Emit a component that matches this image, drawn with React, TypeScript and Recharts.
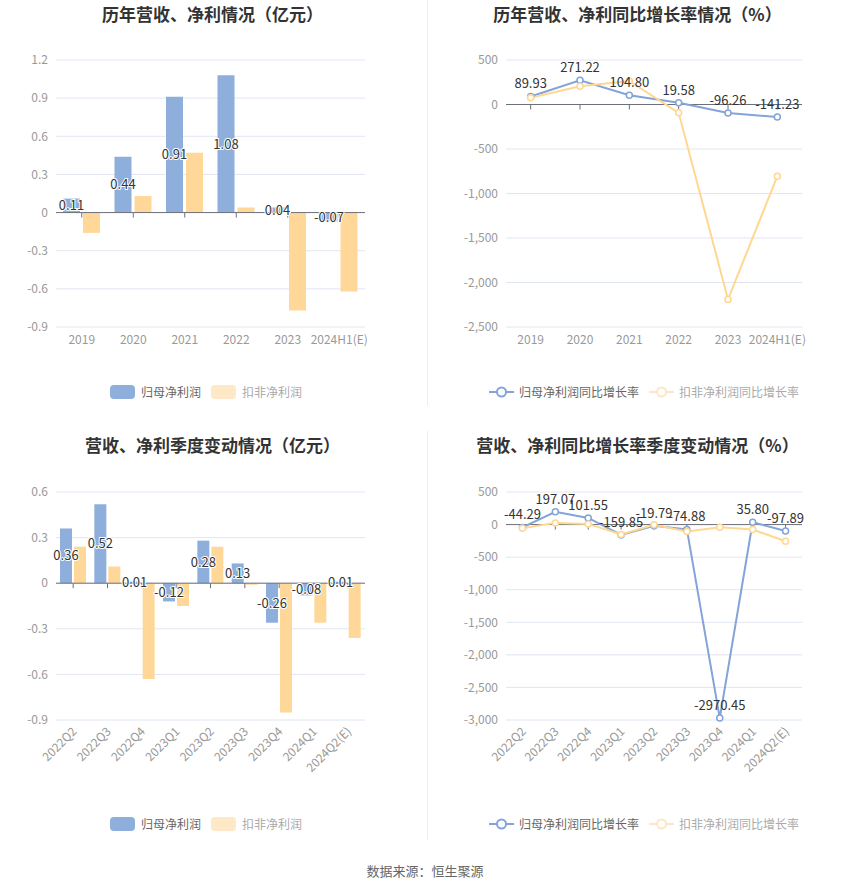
import {
  BarChart,
  Bar,
  LineChart,
  Line,
  XAxis,
  YAxis,
  CartesianGrid,
  ReferenceLine,
  LabelList,
} from "recharts";

// 年度数据
const yearCats = ["2019", "2020", "2021", "2022", "2023", "2024H1(E)"];
const yearNetProfit = [0.11, 0.44, 0.91, 1.08, 0.04, -0.07];
const yearDeductedProfit = [-0.16, 0.13, 0.47, 0.04, -0.77, -0.62];
const yearNetGrowth = [89.93, 271.22, 104.8, 19.58, -96.26, -141.23];
const yearDeductedGrowth = [75, 206, 265, -94, -2190, -805];

// 季度数据
const quarterCats = [
  "2022Q2",
  "2022Q3",
  "2022Q4",
  "2023Q1",
  "2023Q2",
  "2023Q3",
  "2023Q4",
  "2024Q1",
  "2024Q2(E)",
];
const quarterNetProfit = [0.36, 0.52, 0.01, -0.12, 0.28, 0.13, -0.26, -0.08, 0.01];
const quarterDeductedProfit = [0.24, 0.11, -0.63, -0.15, 0.24, -0.01, -0.85, -0.26, -0.36];
const quarterNetGrowth = [-44.29, 197.07, 101.55, -159.85, -19.79, -74.88, -2970.45, 35.8, -97.89];
const quarterDeductedGrowth = [-56, 26, 10, -153, -2, -107, -41, -77, -256];

// 刻度
const yearProfitTicks = [-0.9, -0.6, -0.3, 0, 0.3, 0.6, 0.9, 1.2];
const yearGrowthTicks = [-2500, -2000, -1500, -1000, -500, 0, 500];
const quarterProfitTicks = [-0.9, -0.6, -0.3, 0, 0.3, 0.6];
const quarterGrowthTicks = [-3000, -2500, -2000, -1500, -1000, -500, 0, 500];

const BLUE = "#8eaedc";
const YELLOW = "#ffd899";
const LINE_BLUE = "#82a4d9";
const LINE_YELLOW = "#ffd790";
const GRID = "#e0e6f1";
const AXIS = "#6e7079";
const FONT = '"Noto Sans CJK SC", "Noto Sans", sans-serif';

const yearProfitData = yearCats.map((name, i) => ({
  name,
  net: yearNetProfit[i],
  deducted: yearDeductedProfit[i],
}));
const yearGrowthData = yearCats.map((name, i) => ({
  name,
  net: yearNetGrowth[i],
  deducted: yearDeductedGrowth[i],
}));
const quarterProfitData = quarterCats.map((name, i) => ({
  name,
  net: quarterNetProfit[i],
  deducted: quarterDeductedProfit[i],
}));
const quarterGrowthData = quarterCats.map((name, i) => ({
  name,
  net: quarterNetGrowth[i],
  deducted: quarterDeductedGrowth[i],
}));

const fmtDecimal = (v: number) => (v === 0 ? "0" : v.toFixed(1));
const fmtThousand = (v: number) => v.toLocaleString("en-US");
const fmt2 = (v: any) => Number(v).toFixed(2);

// 零轴线 + 类目中心的小刻度
const zeroAxis = (count: number) => (props: any) => {
  const left = Math.min(props.x1, props.x2);
  const right = Math.max(props.x1, props.x2);
  const y = props.y1;
  const step = (right - left) / count;
  return (
    <g>
      <line x1={left} x2={right} y1={y} y2={y} stroke={AXIS} strokeWidth={1} />
      {Array.from({ length: count }, (_, i) => (
        <line
          key={i}
          x1={left + step * (i + 0.5)}
          x2={left + step * (i + 0.5)}
          y1={y}
          y2={y + 5}
          stroke={AXIS}
          strokeWidth={1}
        />
      ))}
    </g>
  );
};

const RotatedTick = (props: any) => {
  const { x, y, payload } = props;
  return (
    <text
      x={x}
      y={y}
      dy={6}
      transform={`rotate(-45, ${x}, ${y})`}
      textAnchor="end"
      fill="#999"
      fontSize={12}
    >
      {payload.value}
    </text>
  );
};

const tickStyle = { fill: "#999", fontSize: 12 };

const Title = ({ text, top, left }: { text: string; top: number; left: number }) => (
  <div
    style={{
      position: "absolute",
      top,
      left,
      width: 425,
      textAlign: "center",
      fontSize: 17,
      fontWeight: "bold",
      color: "#333",
      lineHeight: "24px",
    }}
  >
    {text}
  </div>
);

const BarLegend = ({ top, left }: { top: number; left: number }) => (
  <div
    style={{
      position: "absolute",
      top,
      left,
      width: 412,
      display: "flex",
      justifyContent: "center",
      alignItems: "center",
      fontSize: 12,
      gap: 10,
    }}
  >
    <span style={{ display: "flex", alignItems: "center", gap: 6, color: "#666" }}>
      <span style={{ width: 25, height: 14, borderRadius: 4, background: BLUE }} />
      归母净利润
    </span>
    <span style={{ display: "flex", alignItems: "center", gap: 6, color: "#aaa" }}>
      <span style={{ width: 25, height: 14, borderRadius: 4, background: "#fee8c6" }} />
      扣非净利润
    </span>
  </div>
);

const LineIcon = ({ color }: { color: string }) => (
  <svg width={25} height={14}>
    <line x1={0} x2={25} y1={7} y2={7} stroke={color} strokeWidth={2} />
    <circle cx={12.5} cy={7} r={4.5} fill="#fff" stroke={color} strokeWidth={2} />
  </svg>
);

const LineLegend = ({ top, left }: { top: number; left: number }) => (
  <div
    style={{
      position: "absolute",
      top,
      left,
      width: 438,
      display: "flex",
      justifyContent: "center",
      alignItems: "center",
      fontSize: 12,
      gap: 10,
    }}
  >
    <span style={{ display: "flex", alignItems: "center", gap: 5, color: "#666" }}>
      <LineIcon color={LINE_BLUE} />
      归母净利润同比增长率
    </span>
    <span style={{ display: "flex", alignItems: "center", gap: 5, color: "#aaa" }}>
      <LineIcon color="#fee6c2" />
      扣非净利润同比增长率
    </span>
  </div>
);

const barLabelProps = {
  position: "center" as const,
  fill: "#333",
  fontSize: 13,
  stroke: "#fff",
  strokeWidth: 2,
  style: { paintOrder: "stroke" },
  formatter: fmt2,
};

const ProfitBars = ({
  data,
  ticks,
  barSize,
  gap,
  rotated,
  top,
}: {
  data: any[];
  ticks: number[];
  barSize: number;
  gap: number;
  rotated: boolean;
  top: number;
}) => (
  <BarChart
    width={425}
    height={400}
    data={data}
    barSize={barSize}
    barGap={gap}
    margin={{ top, right: 60, left: 0, bottom: rotated ? 50 : 43 }}
  >
    <CartesianGrid vertical={false} stroke={GRID} />
    <XAxis
      dataKey="name"
      axisLine={false}
      tickLine={false}
      interval={0}
      height={rotated ? 60 : 30}
      tick={rotated ? <RotatedTick /> : tickStyle}
    />
    <YAxis
      width={56}
      domain={[ticks[0], ticks[ticks.length - 1]]}
      ticks={ticks}
      axisLine={false}
      tickLine={false}
      tick={tickStyle}
      tickFormatter={fmtDecimal}
    />
    <ReferenceLine y={0} shape={zeroAxis(data.length)} />
    <Bar dataKey="net" fill={BLUE} isAnimationActive={false}>
      <LabelList dataKey="net" {...barLabelProps} />
    </Bar>
    <Bar dataKey="deducted" fill={YELLOW} isAnimationActive={false} />
  </BarChart>
);

const GrowthLines = ({
  data,
  ticks,
  rotated,
  top,
}: {
  data: any[];
  ticks: number[];
  rotated: boolean;
  top: number;
}) => {
  const plotWidth = 296;
  const pad = plotWidth / data.length / 2;
  const dot = (color: string) => ({ r: 3, fill: "#fff", stroke: color, strokeWidth: 1.5 });
  return (
    <LineChart
      width={425}
      height={400}
      data={data}
      margin={{ top, right: 48, left: 0, bottom: rotated ? 50 : 43 }}
    >
      <CartesianGrid vertical={false} stroke={GRID} />
      <XAxis
        dataKey="name"
        axisLine={false}
        tickLine={false}
        interval={0}
        padding={{ left: pad, right: pad }}
        height={rotated ? 60 : 30}
        tick={rotated ? <RotatedTick /> : tickStyle}
      />
      <YAxis
        width={81}
        domain={[ticks[0], ticks[ticks.length - 1]]}
        ticks={ticks}
        axisLine={false}
        tickLine={false}
        tick={tickStyle}
        tickFormatter={fmtThousand}
      />
      <ReferenceLine y={0} shape={zeroAxis(data.length)} />
      <Line
        dataKey="net"
        stroke={LINE_BLUE}
        strokeWidth={2}
        dot={dot(LINE_BLUE)}
        activeDot={false}
        isAnimationActive={false}
      />
      <Line
        dataKey="deducted"
        stroke={LINE_YELLOW}
        strokeWidth={2}
        dot={dot(LINE_YELLOW)}
        activeDot={false}
        isAnimationActive={false}
      />
      <Line
        dataKey="net"
        stroke="none"
        dot={false}
        activeDot={false}
        legendType="none"
        isAnimationActive={false}
      >
        <LabelList dataKey="net" position="top" offset={8} fill="#333" fontSize={13} formatter={fmt2} />
      </Line>
    </LineChart>
  );
};

export default function App() {
  return (
    <div
      style={{
        position: "absolute",
        top: 0,
        left: 0,
        width: 850,
        height: 891,
        background: "#fff",
        fontFamily: FONT,
      }}
    >
      <Title text="历年营收、净利情况（亿元）" top={2} left={0} />
      <Title text="历年营收、净利同比增长率情况（%）" top={2} left={425} />
      <Title text="营收、净利季度变动情况（亿元）" top={433} left={0} />
      <Title text="营收、净利同比增长率季度变动情况（%）" top={433} left={425} />

      <div style={{ position: "absolute", top: 0, left: 0 }}>
        <ProfitBars data={yearProfitData} ticks={yearProfitTicks} barSize={17} gap={3} rotated={false} top={60} />
      </div>
      <div style={{ position: "absolute", top: 0, left: 425 }}>
        <GrowthLines data={yearGrowthData} ticks={yearGrowthTicks} rotated={false} top={60} />
      </div>
      <div style={{ position: "absolute", top: 430, left: 0 }}>
        <ProfitBars data={quarterProfitData} ticks={quarterProfitTicks} barSize={12} gap={2} rotated top={62} />
      </div>
      <div style={{ position: "absolute", top: 430, left: 425 }}>
        <GrowthLines data={quarterGrowthData} ticks={quarterGrowthTicks} rotated top={62} />
      </div>

      <BarLegend top={383} left={0} />
      <LineLegend top={383} left={425} />
      <BarLegend top={815} left={0} />
      <LineLegend top={815} left={425} />

      <div style={{ position: "absolute", left: 427, top: 0, width: 1, height: 406, background: "#eee" }} />
      <div style={{ position: "absolute", left: 427, top: 431, width: 1, height: 409, background: "#eee" }} />

      <div
        style={{
          position: "absolute",
          top: 861,
          left: 0,
          width: 850,
          textAlign: "center",
          fontSize: 13,
          color: "#666",
        }}
      >
        数据来源：恒生聚源
      </div>
    </div>
  );
}
